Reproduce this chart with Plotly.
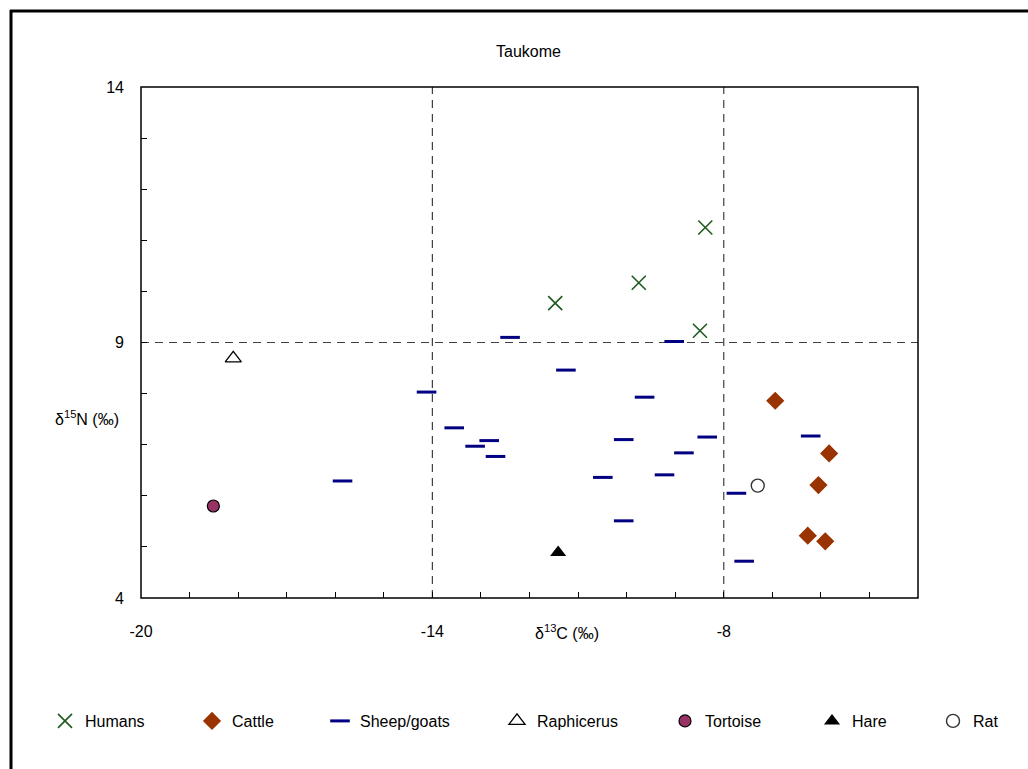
import plotly.graph_objects as go

# ---- data (delta13C, delta15N) ----
humans_x = [-11.47, -9.75, -8.38, -8.49]
humans_y = [9.77, 10.17, 11.25, 9.23]

cattle_x = [-6.94, -5.83, -6.05, -6.27, -5.91]
cattle_y = [7.86, 6.83, 6.21, 5.22, 5.11]

sheep_x = [-15.85, -14.12, -13.55, -13.12, -12.83, -12.70, -12.40, -11.25, -10.49, -10.06,
           -10.06, -9.63, -9.22, -9.02, -8.82, -8.34, -7.74, -7.58, -6.21]
sheep_y = [6.29, 8.03, 7.33, 6.97, 7.08, 6.77, 9.10, 8.46, 6.36, 7.10,
           5.51, 7.93, 6.41, 9.02, 6.84, 7.15, 6.05, 4.72, 7.17]

raph_x = [-18.10]
raph_y = [8.69]

tortoise_x = [-18.51]
tortoise_y = [5.80]

hare_x = [-11.41]
hare_y = [4.89]

rat_x = [-7.30]
rat_y = [6.20]

x_ticks = [-20, -14, -8]
y_ticks = [4, 9, 14]
ref_x = [-14, -8]
ref_y = [9]

# ---- layout geometry (pixels) ----
W, H = 1028, 769
L, R, T, B = 141, 918, 87, 598
PW, PH = R - L, B - T


def px(xpix):
    return (xpix - L) / PW


def py(ypix):
    return (B - ypix) / PH


FONT = "Liberation Sans, Arial, sans-serif"

fig = go.Figure()

series = [
    ("Humans", humans_x, humans_y,
     dict(symbol="x-thin", size=14, color="#1f5a1f", line=dict(color="#1f5a1f", width=1.6))),
    ("Cattle", cattle_x, cattle_y,
     dict(symbol="diamond", size=14, color="#993300", line=dict(width=0))),
    ("Sheep/goats", sheep_x, sheep_y,
     dict(symbol="line-ew", size=14, color="#000080", line=dict(color="#000080", width=3))),
    ("Raphicerus", raph_x, raph_y,
     dict(symbol="triangle-up", size=14, color="white", line=dict(color="black", width=1.3))),
    ("Tortoise", tortoise_x, tortoise_y,
     dict(symbol="circle", size=12, color="#993366", line=dict(color="black", width=1.2))),
    ("Hare", hare_x, hare_y,
     dict(symbol="triangle-up", size=14, color="black", line=dict(color="black", width=0))),
    ("Rat", rat_x, rat_y,
     dict(symbol="circle", size=13, color="white", line=dict(color="#333333", width=1.4))),
]

legend_marker_px = [65, 212, 340, 517, 685, 832, 953]
legend_y = py(721)

layout_legends = {}
for i, (name, xs, ys, mk) in enumerate(series):
    lname = "legend" if i == 0 else f"legend{i + 1}"
    fig.add_trace(go.Scatter(x=xs, y=ys, mode="markers", name=name, marker=mk,
                             legend=lname, hoverinfo="x+y+name"))
    layout_legends[lname] = dict(
        x=px(legend_marker_px[i] - 20), y=legend_y, xanchor="left", yanchor="middle",
        orientation="h", bgcolor="rgba(0,0,0,0)", borderwidth=0,
        font=dict(family=FONT, size=16, color="black"), itemwidth=30,
    )

shapes = []
for xv in ref_x:
    shapes.append(dict(type="line", xref="x", yref="paper", x0=xv, x1=xv, y0=0, y1=1,
                       line=dict(color="#404040", width=1.2, dash="8px,6px"), layer="below"))
for yv in ref_y:
    shapes.append(dict(type="line", xref="paper", yref="y", x0=0, x1=1, y0=yv, y1=yv,
                       line=dict(color="#404040", width=1.2, dash="8px,6px"), layer="below"))
# plot-area frame
shapes.append(dict(type="rect", xref="paper", yref="paper", x0=0, x1=1, y0=0, y1=1,
                   line=dict(color="black", width=1.5)))
# outer chart frame (left and top edges visible)
shapes.append(dict(type="line", xref="paper", yref="paper", x0=px(11), x1=px(11),
                   y0=py(10), y1=py(772), line=dict(color="black", width=3)))
shapes.append(dict(type="line", xref="paper", yref="paper", x0=px(10), x1=px(1032),
                   y0=py(11), y1=py(11), line=dict(color="black", width=3)))

annotations = [
    dict(text="Taukome", x=px(528), y=py(52), xref="paper", yref="paper",
         showarrow=False, font=dict(family=FONT, size=16, color="black"),
         xanchor="center", yanchor="middle"),
    dict(text="δ<sup>13</sup>C (‰)", x=px(567), y=py(632), xref="paper", yref="paper",
         showarrow=False, font=dict(family=FONT, size=16, color="black"),
         xanchor="center", yanchor="middle"),
    dict(text="δ<sup>15</sup>N (‰)", x=px(87), y=py(418), xref="paper", yref="paper",
         showarrow=False, font=dict(family=FONT, size=16, color="black"),
         xanchor="center", yanchor="middle"),
]

fig.update_layout(
    width=W, height=H,
    margin=dict(l=L, r=W - R, t=T, b=H - B, pad=0),
    paper_bgcolor="white", plot_bgcolor="white",
    showlegend=True,
    shapes=shapes, annotations=annotations,
    font=dict(family=FONT, size=16, color="black"),
    xaxis=dict(range=[-20, -4], tickvals=x_ticks, ticktext=[str(v) for v in x_ticks],
               ticks="inside", ticklen=6, tickcolor="black", tickwidth=1,
               minor=dict(dtick=1, tick0=-20, ticks="inside", ticklen=6, tickcolor="black", tickwidth=1),
               showgrid=False, zeroline=False, showline=False,
               ticklabelstandoff=22, tickfont=dict(family=FONT, size=16)),
    yaxis=dict(range=[4, 14], tickvals=y_ticks, ticktext=[str(v) for v in y_ticks],
               ticks="inside", ticklen=6, tickcolor="black", tickwidth=1,
               minor=dict(dtick=1, tick0=4, ticks="inside", ticklen=6, tickcolor="black", tickwidth=1),
               showgrid=False, zeroline=False, showline=False,
               ticklabelstandoff=16, tickfont=dict(family=FONT, size=16)),
    **layout_legends,
)

fig.write_html("out.html")
